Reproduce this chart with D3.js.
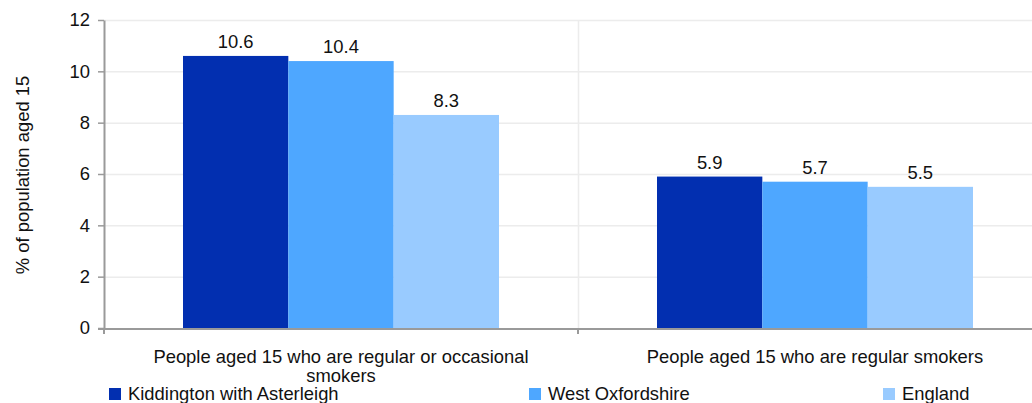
<!DOCTYPE html>
<html><head><meta charset="utf-8">
<script src="https://cdn.jsdelivr.net/npm/d3@7"></script>
<style>body{margin:0;background:#fff}svg{display:block;font-family:"Liberation Sans",Arial,sans-serif}</style>
</head><body><svg id="c" width="1032" height="403"></svg>
<script>
const categories = [["People aged 15 who are regular or occasional","smokers"],["People aged 15 who are regular smokers"]];
const seriesNames = ["Kiddington with Asterleigh","West Oxfordshire","England"];
const kiddington = [10.6, 5.9];
const westOxon = [10.4, 5.7];
const england = [8.3, 5.5];
const yTicks = [0,2,4,6,8,10,12];
const colors = ["#022fb0","#4ea7ff","#99cbff"];
const yTitle = "% of population aged 15";

(function(){
const FS = 18.4;
const svg = d3.select("#c");
const pLeft = 104, pRight = 1052, pTop = 20, pBottom = 328;
const x = d3.scaleBand().domain(d3.range(categories.length)).range([pLeft, pRight]);
const xs2 = d3.scaleBand().domain(d3.range(seriesNames.length)).range([x.bandwidth()/6, x.bandwidth()*5/6]);
const y = d3.scaleLinear().domain([0,12]).range([pBottom, pTop]);
const data = [kiddington, westOxon, england];

svg.append("g").selectAll("line").data(yTicks.filter(d=>d>0)).join("line")
  .attr("x1", pLeft).attr("x2", 1032).attr("y1", d=>y(d)+0.5).attr("y2", d=>y(d)+0.5)
  .attr("stroke", "#ececec").attr("stroke-width", 1.5);
svg.append("g").selectAll("line").data(d3.range(1, categories.length)).join("line")
  .attr("x1", d=>x(d)+0.5).attr("x2", d=>x(d)+0.5).attr("y1", pTop).attr("y2", pBottom)
  .attr("stroke", "#ececec").attr("stroke-width", 1.5);

data.forEach((vals, si) => {
  const g = svg.append("g");
  g.selectAll("rect").data(vals).join("rect")
    .attr("x", (d,i)=>x(i)+xs2(si))
    .attr("width", xs2.bandwidth())
    .attr("y", d=>y(d)).attr("height", d=>pBottom - y(d))
    .attr("fill", colors[si]);
  g.selectAll("text").data(vals).join("text")
    .attr("x", (d,i)=>x(i)+xs2(si)+xs2.bandwidth()/2)
    .attr("y", d=>y(d)-8)
    .attr("text-anchor","middle").attr("font-size",FS).attr("fill","#111")
    .text(d=>d.toFixed(1));
});

const ya = svg.append("g").attr("transform", `translate(${pLeft},0)`)
  .call(d3.axisLeft(y).tickValues(yTicks).tickSize(6).tickPadding(8).tickSizeOuter(0));
ya.select(".domain").attr("stroke","#9a9a9a").attr("stroke-width",2);
ya.selectAll(".tick line").attr("stroke","#9a9a9a").attr("stroke-width",1.5);
ya.selectAll("text").attr("font-size",FS).attr("fill","#111").attr("font-family","Liberation Sans, Arial, sans-serif");

svg.append("line").attr("x1",pLeft-6).attr("x2",1032).attr("y1",pBottom+1).attr("y2",pBottom+1)
  .attr("stroke","#9a9a9a").attr("stroke-width",2);
svg.append("g").selectAll("line").data(d3.range(categories.length)).join("line")
  .attr("x1", d=>x(d)).attr("x2", d=>x(d)).attr("y1", pBottom).attr("y2", pBottom+6)
  .attr("stroke","#9a9a9a").attr("stroke-width",2);

const cl = svg.append("g").selectAll("text").data(categories).join("text")
  .attr("x",(d,i)=>x(i)+x.bandwidth()/2).attr("y",363)
  .attr("text-anchor","middle").attr("font-size",FS).attr("fill","#111");
cl.selectAll("tspan").data(d=>d).join("tspan")
  .attr("x", function(){return this.parentNode.getAttribute("x");})
  .attr("dy",(d,i)=>i?19:0).text(d=>d);

svg.append("text").attr("transform","translate(29,175) rotate(-90)")
  .attr("text-anchor","middle").attr("font-size",FS).attr("fill","#111").text(yTitle);

const legX = [109, 529, 883];
const lg = svg.append("g").selectAll("g").data(seriesNames).join("g")
  .attr("transform",(d,i)=>`translate(${legX[i]},388)`);
lg.append("rect").attr("width",12).attr("height",12).attr("fill",(d,i)=>colors[i]);
lg.append("text").attr("x",19).attr("y",12).attr("font-size",FS).attr("fill","#111").text(d=>d);
})();
</script></body></html>
